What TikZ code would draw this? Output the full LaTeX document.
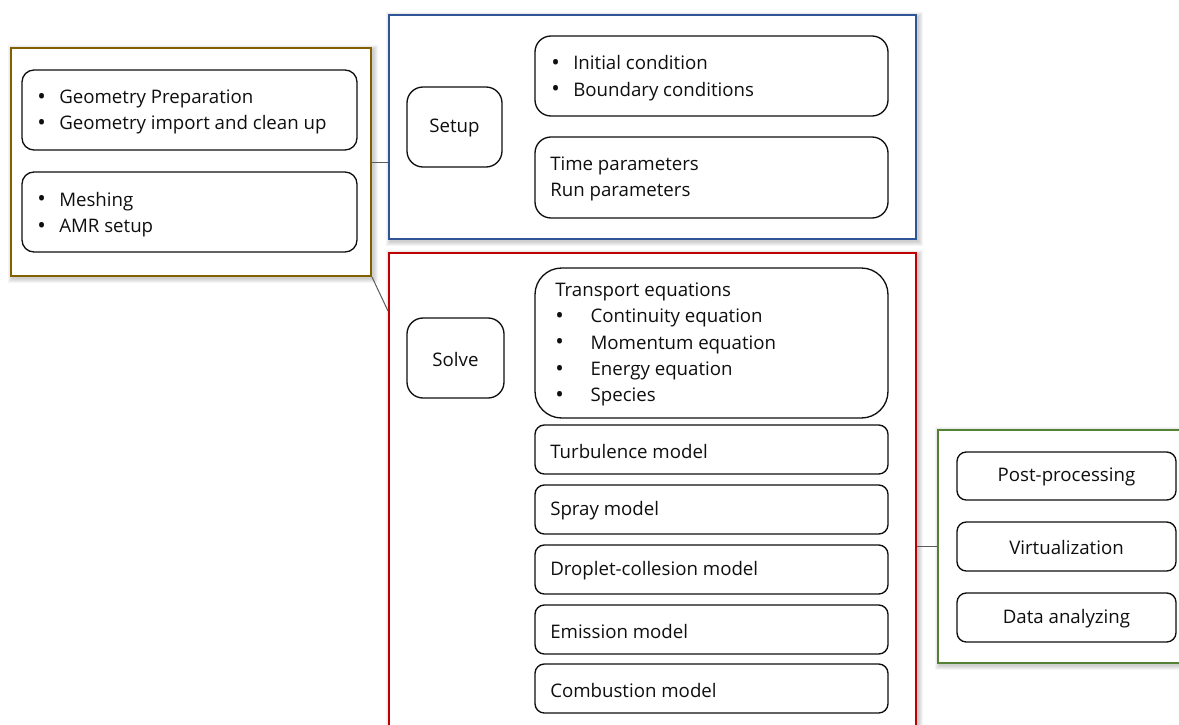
\documentclass[tikz,border=0pt]{standalone}
\usepackage{fontspec}
\setmainfont{Open Sans}
\usetikzlibrary{calc,fit}
\definecolor{goldc}{RGB}{128,96,0}
\definecolor{bluec}{RGB}{47,85,151}
\definecolor{redc}{RGB}{192,0,0}
\definecolor{greenc}{RGB}{84,130,53}
\definecolor{txt}{RGB}{15,15,15}
\definecolor{connc}{RGB}{90,90,90}
\newcommand\bdot{{\fontsize{17}{17}\selectfont\raisebox{-0.6pt}{•}}}
\newcommand\bul{\makebox[16.5pt][l]{\bdot}}
\newcommand\bulw{\makebox[26.5pt][l]{\bdot}}
\begin{document}
\begin{tikzpicture}[x=0.75pt, y=-0.75pt,
  outer/.style={draw, line width=1.5pt, inner sep=0pt, fill=white},
  rbox/.style={draw=txt, line width=1pt, rounded corners=9pt, inner sep=0pt, fill=white},
  lbl/.style={anchor=west, inner sep=0pt, align=left, text=txt, font=\fontsize{14}{19.8}\selectfont},
  ctr/.style={inner sep=0pt, text=txt, font=\fontsize{14}{19.8}\selectfont},
  conn/.style={draw=connc, line width=0.75pt}]
\useasboundingbox (0,0) rectangle (1179,725);
\fill[white] (0,0) rectangle (1179,725);
\clip (0,0) rectangle (1179,725);
% shadows
\foreach \a/\b/\c/\d in {11/48/371/276, 389/15/916/239, 389/253/916/760, 938/430/1200/663}{
  \foreach \i in {1,...,5}{
    \fill[black,opacity=0.04] (\a-\i+1.5,\b-\i+2) rectangle (\c+\i+1.5,\d+\i+2);
  }
}
% outer boxes
\node[outer, draw=goldc, fit={(11,48)(371,276)}] (L) {};
\node[outer, draw=bluec, fit={(389,15)(916,239)}] (B) {};
\node[outer, draw=redc, fit={(389,253)(916,760)}] (R) {};
\node[outer, draw=greenc, fit={(938,430)(1200,663)}] (G) {};
% connectors
\draw[conn] (L.east) -- (L.east -| B.west);
\coordinate (rin) at ($(R.north west)+(0,59)$);
\draw[conn] (L.south east) -- (rin);
\draw[conn] (G.west) -- (G.west -| R.east);
% left group
\node[rbox, fit={(22,70)(357,150)}] (geo) {};
\node[lbl] (geot) at (37,112) {\bul Geometry Preparation\\\bul Geometry import and clean up};
\node[rbox, fit={(22,172)(357,252)}] (mesh) {};
\node[lbl] (mesht) at (37,214.5) {\bul Meshing\\\bul AMR setup};
% setup group
\node[rbox, rounded corners=12pt, fit={(407,87)(502,167)}] (setup) {};
\node[ctr] (setupt) at ($(setup.center)+(0,1)$) {Setup};
\node[rbox, rounded corners=12pt, fit={(535,36)(888,116)}] (init) {};
\node[lbl] (initt) at (551,78) {\bul Initial condition\\\bul Boundary conditions};
\node[rbox, rounded corners=12pt, fit={(535,137)(888,218)}] (time) {};
\node[lbl] (timet) at (550,179) {Time parameters\\Run parameters};
% solve group
\node[rbox, rounded corners=12pt, fit={(407,318)(504,398)}] (solve) {};
\node[ctr] (solvet) at ($(solve.center)+(0,1)$) {Solve};
\node[rbox, rounded corners=20pt, fit={(535,268)(888,418)}] (trans) {};
\node[lbl] (transt) at (555,344.5) {Transport equations\\\bulw Continuity equation\\\bulw Momentum equation\\\bulw Energy equation\\\bulw Species};
\node[rbox, rounded corners=7pt, fit={(535,425)(888,474)}] (turb) {};
\node[lbl] (turbt) at (550,451) {Turbulence model};
\node[rbox, rounded corners=7pt, fit={(535,485)(888,534)}] (spray) {};
\node[lbl] (sprayt) at (550,511) {Spray model};
\node[rbox, rounded corners=7pt, fit={(535,545)(888,594)}] (drop) {};
\node[lbl] (dropt) at (550,571) {Droplet-collesion model};
\node[rbox, rounded corners=7pt, fit={(535,605)(888,654)}] (emis) {};
\node[lbl] (emist) at (550,631) {Emission model};
\node[rbox, rounded corners=7pt, fit={(535,664)(888,713)}] (comb) {};
\node[lbl] (combt) at (550,690) {Combustion model};
% post group
\node[rbox, rounded corners=7pt, fit={(957,452)(1176,500)}] (post) {};
\node[ctr] (postt) at ($(post.center)+(0,1)$) {Post-processing};
\node[rbox, rounded corners=7pt, fit={(957,522)(1176,571)}] (virt) {};
\node[ctr] (virtt) at ($(virt.center)+(0,1)$) {Virtualization};
\node[rbox, rounded corners=7pt, fit={(957,593)(1176,642)}] (data) {};
\node[ctr] (datat) at ($(data.center)+(0,1)$) {Data analyzing};
\end{tikzpicture}
\end{document}
